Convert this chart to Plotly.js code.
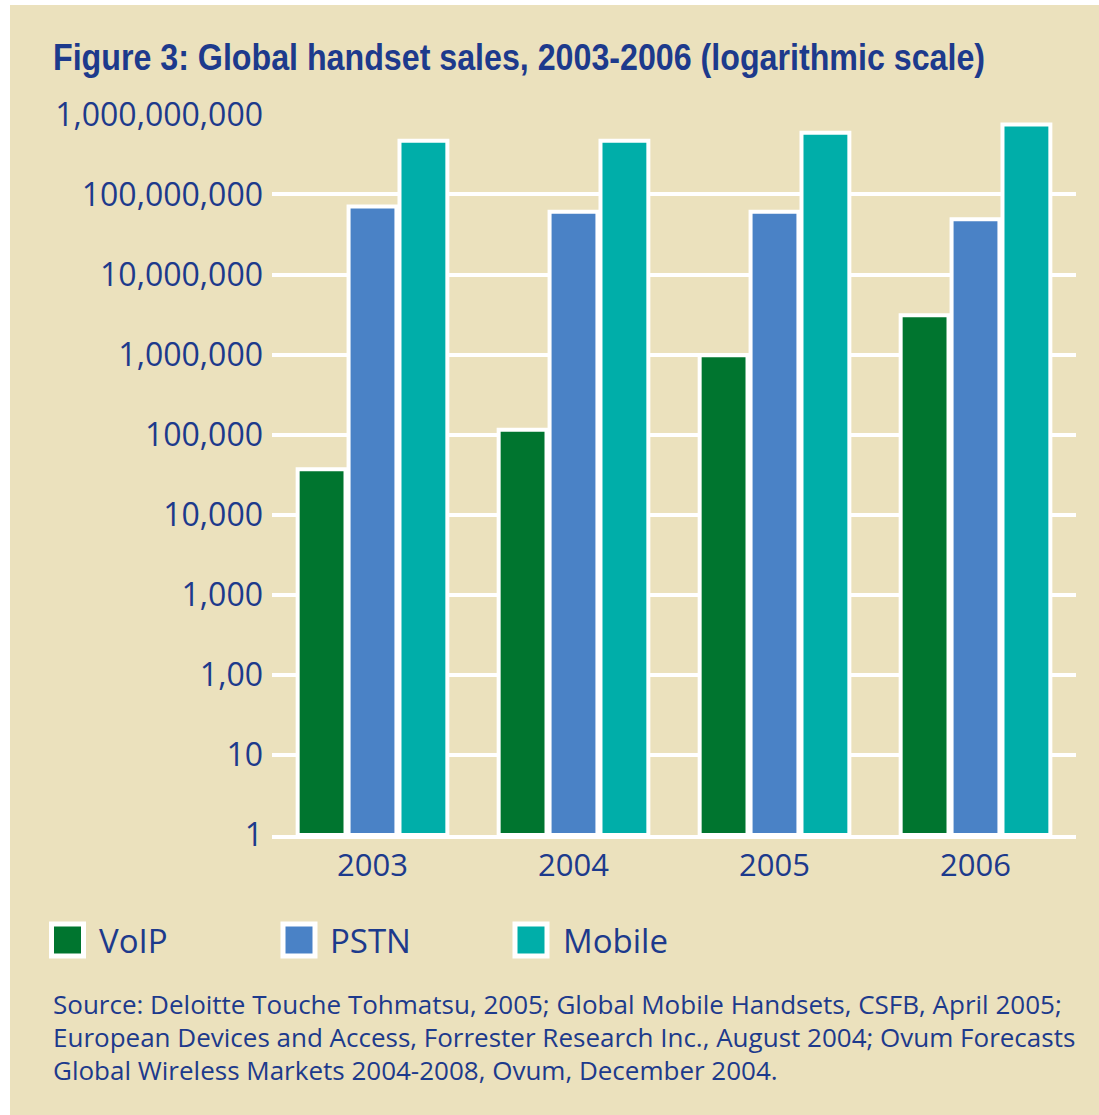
<!DOCTYPE html>
<html>
<head>
<meta charset="utf-8">
<script src="https://cdn.plot.ly/plotly-3.0.1.min.js"></script>
<style>
  html, body { margin: 0; padding: 0; background: #ffffff; }
  #chart { position: absolute; left: 10px; top: 5px; width: 1089px; height: 1110px; }
</style>
</head>
<body>
<div id="chart"></div>
<script>
// ---- data ----
const years = ["2003", "2004", "2005", "2006"];
const seriesNames = ["VoIP", "PSTN", "Mobile"];
const voip = [37000, 115000, 980000, 3100000];
const pstn = [71000000, 61000000, 61000000, 49000000];
const mobile = [470000000, 470000000, 590000000, 750000000];
const seriesColors = ["#00752f", "#4a82c6", "#00aea9"];
const tickValues = [1, 10, 100, 1000, 10000, 100000, 1000000, 10000000, 100000000, 1000000000];
const tickLabels = ["1", "10", "1,00", "1,000", "10,000", "100,000", "1,000,000", "10,000,000", "100,000,000", "1,000,000,000"];
const titleText = "Figure 3: Global handset sales, 2003-2006 (logarithmic scale)";
const sourceLines = [
  "Source: Deloitte Touche Tohmatsu, 2005; Global Mobile Handsets, CSFB, April 2005;",
  "European Devices and Access, Forrester Research Inc., August 2004; Ovum Forecasts",
  "Global Wireless Markets 2004-2008, Ovum, December 2004."
];

// ---- layout helpers (pixel geometry of the figure) ----
const W = 1089, H = 1110;
const M = { l: 262, r: 23, t: 109, b: 280 };
const PW = W - M.l - M.r, PH = H - M.t - M.b;
const px2x = p => (p - M.l) / PW;
const px2y = p => (H - M.b - p) / PH;

const bg = "#ebe1bd";
const textBlue = "#1d3a8c";
const bodyFont = "Open Sans, Noto Sans, sans-serif";

const values = [voip, pstn, mobile];
const traces = seriesNames.map((name, i) => ({
  type: "bar",
  name: name,
  x: years,
  y: values[i],
  base: 1,
  marker: { color: seriesColors[i], line: { color: "#ffffff", width: 4 } },
  showlegend: false,
  hoverinfo: "x+y+name"
}));

// manual legend (large squares)
const legendCenters = [57.5, 289, 521];
const legendTextX = [87, 318, 551];
const legendY = 935;
const shapes = [];
const annotations = [];
seriesNames.forEach((name, i) => {
  shapes.push({
    type: "rect", xref: "paper", yref: "paper",
    xsizemode: "pixel", ysizemode: "pixel",
    xanchor: px2x(legendCenters[i]), yanchor: px2y(legendY),
    x0: -16, x1: 16, y0: -16, y1: 16,
    fillcolor: seriesColors[i], line: { color: "#ffffff", width: 5 }
  });
  annotations.push({
    xref: "paper", yref: "paper",
    x: px2x(legendTextX[i]), y: px2y(legendY),
    xanchor: "left", yanchor: "middle", showarrow: false,
    text: name, font: { family: bodyFont, size: 33, color: textBlue }
  });
});
const sourceY = [999, 1032, 1065];
sourceLines.forEach((line, i) => {
  annotations.push({
    xref: "paper", yref: "paper",
    x: px2x(41), y: px2y(sourceY[i]),
    xanchor: "left", yanchor: "middle", showarrow: false,
    text: line, font: { family: bodyFont, size: 26, color: textBlue }
  });
});

const layout = {
  width: W, height: H,
  margin: M,
  paper_bgcolor: bg,
  plot_bgcolor: bg,
  barmode: "group",
  bargap: 0.24,
  bargroupgap: 0.06,
  title: {
    text: titleText,
    xref: "container", yref: "container",
    x: 43 / W, xanchor: "left",
    y: 1 - 52 / H, yanchor: "middle",
    font: { family: "Liberation Sans, Arial, sans-serif", size: 36, weight: "bold", color: textBlue }
  },
  xaxis: {
    type: "category",
    range: [-0.5, 3.5],
    showgrid: false,
    showline: true, linecolor: "#ffffff", linewidth: 4,
    ticks: "", ticklabelstandoff: 0,
    tickfont: { family: bodyFont, size: 31, color: textBlue },
    fixedrange: true
  },
  yaxis: {
    type: "log",
    range: [0, 9.005],
    tickvals: tickValues,
    ticktext: tickLabels,
    showgrid: true, gridcolor: "#ffffff", gridwidth: 4,
    zeroline: false, showline: false,
    ticks: "", ticklabelstandoff: 8,
    tickfont: { family: bodyFont, size: 32, color: textBlue },
    fixedrange: true
  },
  shapes: shapes,
  annotations: annotations
};

Plotly.newPlot("chart", traces, layout, { displayModeBar: false, staticPlot: true }).then(gd => {
  // condense the title to the reference's width (bold condensed face)
  const t = gd.querySelector(".gtitle");
  if (t) {
    t.setAttribute("textLength", "932");
    t.setAttribute("lengthAdjust", "spacingAndGlyphs");
  }
});
</script>
</body>
</html>
